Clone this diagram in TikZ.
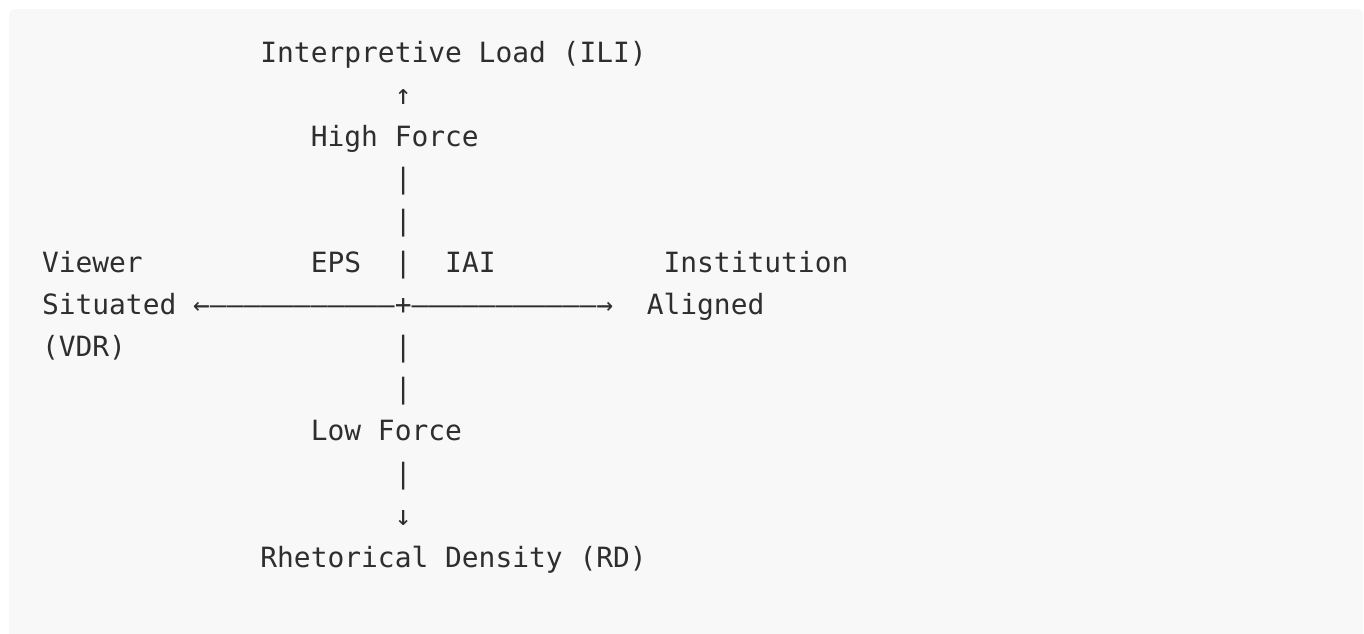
\documentclass[tikz,border=0pt]{standalone}
\usepackage{fontspec}
\setmonofont{DejaVu Sans Mono}
\usepackage{xcolor}
\definecolor{panelgray}{HTML}{F8F8F8}
\definecolor{inkgray}{HTML}{2E2E2E}
\usepackage{tikz}
\usetikzlibrary{positioning}

\begin{document}
\begin{tikzpicture}[x=8.4pt,y=-21.05pt,
  font=\ttfamily\fontsize{13.95}{16}\selectfont,
  cell/.style={anchor=base west,inner sep=0pt,outer sep=0pt,text=inkgray}]
  \useasboundingbox (-21pt,31pt) rectangle (661pt,-285.5pt);
  \fill[panelgray,rounded corners=3pt] (-16.5pt,26.5pt) rectangle (660.5pt,-300pt);
  % vertical axis: one column, one row per line
  \node[cell] (ili) at (13,0) {Interpretive Load (ILI)};
  \node[cell] (up) at (21,1) {↑};
  \node[cell] (high) at (16,2) {High Force};
  \foreach \r in {3,4,7,8,10} \node[cell] (bar\r) at (21,\r) {|};
  \node[cell] (low) at (16,9) {Low Force};
  \node[cell] (down) at (21,11) {↓};
  \node[cell] (rd) at (13,12) {Rhetorical Density (RD)};
  % horizontal axis and quadrant tags
  \node[cell] (viewer) at (0,5) {Viewer};
  \node[cell] (eps) at (16,5) {EPS};
  \node[cell] (bar5) at (21,5) {|};
  \node[cell] (iai) at (24,5) {IAI};
  \node[cell] (inst) at (37,5) {Institution};
  \node[cell] (situated) at (0,6) {Situated};
  \node[cell] (hline) at (9,6) {←———————————+———————————→};
  \node[cell] (aligned) at (36,6) {Aligned};
  \node[cell] (vdr) at (0,7) {(VDR)};
\end{tikzpicture}
\end{document}
